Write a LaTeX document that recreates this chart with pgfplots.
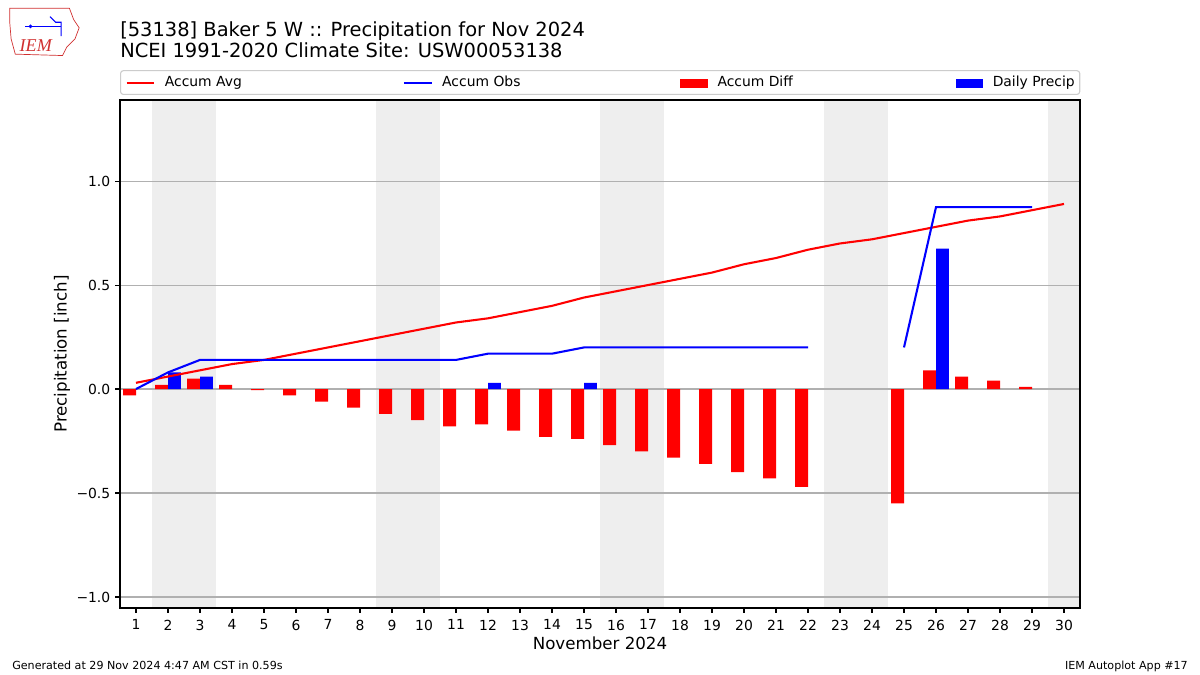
\documentclass[border=0pt]{standalone}
\usepackage{fontspec}
\setmainfont{DejaVu Sans}
\newfontfamily\logofont{Liberation Serif}
\usepackage{pgfplots}
\pgfplotsset{compat=1.18}
\definecolor{shade}{HTML}{EEEEEE}
\definecolor{gridc}{HTML}{B0B0B0}
\definecolor{legframe}{HTML}{CCCCCC}
\definecolor{logored}{HTML}{D03030}
\pgfplotsset{
  linelegend/.style={legend image code/.code={\draw[##1, sharp corners] (0pt,0pt) -- (20pt,0pt);}},
  barlegend/.style={legend image code/.code={\fill[##1, sharp corners, draw=none] (0pt,-3.7pt) rectangle (20pt,2.4pt);}},
}
\begin{document}
\begin{tikzpicture}
\path (0,0) rectangle (864pt,486pt);
% logo (approximation)
\draw[logored, line width=0.5pt] (7pt,480pt) -- (50pt,480pt) -- (53pt,472pt) -- (57pt,466pt) -- (54pt,458pt) -- (48pt,452pt) -- (45pt,446pt) -- (11pt,447pt) -- (8pt,458pt) -- (7pt,470pt) -- cycle;
\node[anchor=base west, text=logored, font=\logofont\itshape\fontsize{13}{13}\selectfont, inner sep=0pt] at (14pt,449pt) {IEM};
\draw[blue, line width=0.8pt] (18pt,467pt) -- (44pt,467pt);
\draw[blue, line width=0.8pt] (36pt,474pt) -- (40pt,470pt) -- (44pt,470pt) -- (44pt,460pt);
\fill[blue] (22pt,467pt) circle (1.4pt);
% titles
\node[anchor=base west, inner sep=0pt, font=\fontsize{14}{16}\selectfont] at (86.4pt,459.5pt) {[53138] Baker 5 W :: Precipitation for Nov 2024};
\node[anchor=base west, inner sep=0pt, font=\fontsize{14}{16}\selectfont] at (86.4pt,444.5pt) {NCEI 1991-2020 Climate Site: USW00053138};
% footers
\node[anchor=base west, inner sep=0pt, font=\fontsize{8}{10}\selectfont] at (8.64pt,3.6pt) {Generated at 29 Nov 2024 4:47 AM CST in 0.59s};
\node[anchor=base east, inner sep=0pt, font=\fontsize{8}{10}\selectfont] at (855.4pt,3.6pt) {IEM Autoplot App \#17};
\begin{axis}[
  set layers,
  at={(86.4pt,48.24pt)}, anchor=south west,
  width=691.2pt, height=365.76pt, scale only axis,
  xmin=0.5, xmax=30.5, ymin=-1.053, ymax=1.39,
  xtick={1,...,30},
  ytick={-1,-0.5,0,0.5,1},
  yticklabels={−1.0,−0.5,0.0,0.5,1.0},
  /pgf/number format/assume math mode=true,
  tick align=outside, xtick pos=bottom, ytick pos=left,
  major tick length=3.5pt,
  tick style={black, line width=0.8pt},
  axis line style={line width=0.8pt},
  ymajorgrids, major grid style={gridc, line width=0.8pt},
  ticklabel style={font=\fontsize{10}{12}\selectfont},
  xticklabel style={yshift=-1.4pt},
  xlabel={November 2024}, ylabel={Precipitation [inch]},
  label style={font=\fontsize{12}{14}\selectfont},
  xlabel style={at={(axis description cs:0.5,-0.0689)}, anchor=center},
  ylabel style={at={(axis description cs:-0.0604,0.5)}, anchor=center},
  legend columns=4,
  legend cell align=left,
  legend style={at={(0,1)}, anchor=south west, yshift=3.6pt,
    draw=legframe, line width=0.8pt, rounded corners=2pt,
    inner xsep=3.6pt, inner ysep=3pt,
    font=\fontsize{10}{12}\selectfont,
    nodes={inner xsep=0pt, inner ysep=1pt},
    column sep=0pt,
    /tikz/every odd column/.append style={column sep=6.8pt}},
]
% weekend shading
\addplot[on layer=axis background, fill=shade, draw=none, forget plot] coordinates {(1.5,-1.053) (3.5,-1.053) (3.5,1.39) (1.5,1.39)} -- cycle;
\addplot[on layer=axis background, fill=shade, draw=none, forget plot] coordinates {(8.5,-1.053) (10.5,-1.053) (10.5,1.39) (8.5,1.39)} -- cycle;
\addplot[on layer=axis background, fill=shade, draw=none, forget plot] coordinates {(15.5,-1.053) (17.5,-1.053) (17.5,1.39) (15.5,1.39)} -- cycle;
\addplot[on layer=axis background, fill=shade, draw=none, forget plot] coordinates {(22.5,-1.053) (24.5,-1.053) (24.5,1.39) (22.5,1.39)} -- cycle;
\addplot[on layer=axis background, fill=shade, draw=none, forget plot] coordinates {(29.5,-1.053) (30.5,-1.053) (30.5,1.39) (29.5,1.39)} -- cycle;
% accum diff bars
\addplot[ybar, bar width=0.4, bar shift=-0.2, fill=red, draw=none, forget plot] coordinates {
(1,-0.03) (2,0.02) (3,0.05) (4,0.02) (5,-0.005) (6,-0.03) (7,-0.06) (8,-0.09) (9,-0.12) (10,-0.15)
(11,-0.18) (12,-0.17) (13,-0.20) (14,-0.23) (15,-0.24) (16,-0.27) (17,-0.30) (18,-0.33) (19,-0.36) (20,-0.40)
(21,-0.43) (22,-0.47) (25,-0.55) (26,0.09) (27,0.06) (28,0.04) (29,0.01)};
% daily precip bars
\addplot[ybar, bar width=0.4, bar shift=0.2, fill=blue, draw=none, forget plot] coordinates {
(2,0.08) (3,0.06) (12,0.03) (15,0.03) (26,0.675)};
% accum avg
\addplot[red, line width=1.5pt, forget plot] coordinates {
(1,0.03) (2,0.06) (3,0.09) (4,0.12) (5,0.14) (6,0.17) (7,0.20) (8,0.23) (9,0.26) (10,0.29)
(11,0.32) (12,0.34) (13,0.37) (14,0.40) (15,0.44) (16,0.47) (17,0.50) (18,0.53) (19,0.56) (20,0.60)
(21,0.63) (22,0.67) (23,0.70) (24,0.72) (25,0.75) (26,0.78) (27,0.81) (28,0.83) (29,0.86) (30,0.89)};
% accum obs
\addplot[blue, line width=1.5pt, forget plot] coordinates {
(1,0.00) (2,0.08) (3,0.14) (4,0.14) (5,0.14) (6,0.14) (7,0.14) (8,0.14) (9,0.14) (10,0.14)
(11,0.14) (12,0.17) (13,0.17) (14,0.17) (15,0.20) (16,0.20) (17,0.20) (18,0.20) (19,0.20) (20,0.20)
(21,0.20) (22,0.20)};
\addplot[blue, line width=1.5pt, forget plot] coordinates {
(25,0.20) (26,0.875) (27,0.875) (28,0.875) (29,0.875)};
% legend
\addlegendimage{linelegend, red, line width=1.5pt}
\addlegendentry{\makebox[171.4pt][l]{Accum Avg}}
\addlegendimage{linelegend, blue, line width=1.5pt}
\addlegendentry{\makebox[171.4pt][l]{Accum Obs}}
\addlegendimage{barlegend, fill=red}
\addlegendentry{\makebox[171.4pt][l]{Accum Diff}}
\addlegendimage{barlegend, fill=blue}
\addlegendentry{Daily Precip}
\end{axis}
\end{tikzpicture}
\end{document}
